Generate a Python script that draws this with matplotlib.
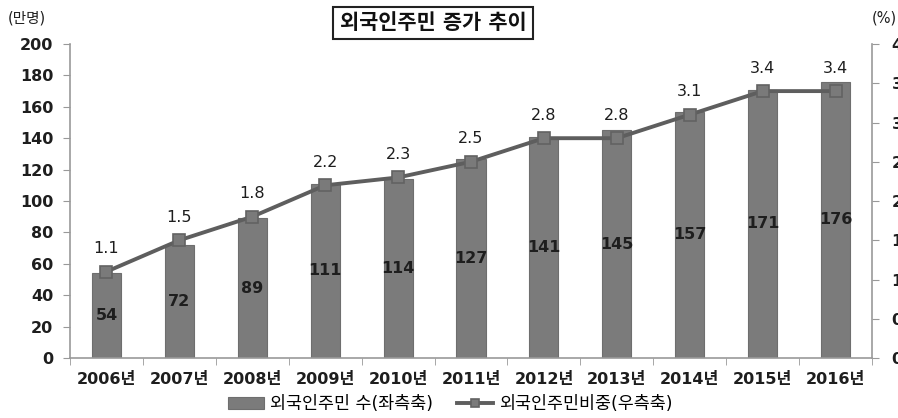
import numpy as np
import matplotlib
matplotlib.use("Agg")
from matplotlib import pyplot as plt
from matplotlib.ticker import FixedLocator

# DejaVu first for the wide digits, CJK font for the Hangul
plt.rcParams['font.family'] = ['DejaVu Sans', 'Noto Sans CJK KR']

# data
years = ['2006년', '2007년', '2008년', '2009년', '2010년', '2011년',
         '2012년', '2013년', '2014년', '2015년', '2016년']
residents = [54, 72, 89, 111, 114, 127, 141, 145, 157, 171, 176]
share = [1.1, 1.5, 1.8, 2.2, 2.3, 2.5, 2.8, 2.8, 3.1, 3.4, 3.4]

TXT = '#1e1e1e'

fig = plt.figure(figsize=(8.98, 4.18), dpi=100)
ax = fig.add_axes([70 / 898, 1 - 358 / 418, 802 / 898, 314 / 418])
ax2 = ax.twinx()

x = np.arange(len(years))
bars = ax.bar(x, residents, width=0.4, color='#7b7b7b', edgecolor='#6e6e6e',
              linewidth=0.8, label='외국인주민 수(좌측축)', zorder=2)
for i, v in enumerate(residents):
    ax.text(i, v / 2, str(v), ha='center', va='center', fontsize=11.5,
            color=TXT, fontweight='semibold', zorder=3)

line, = ax2.plot(x, share, color='#5e5e5e', lw=2.8, marker='s', markersize=8.5,
                 markerfacecolor='#7a7a7a', markeredgecolor='#626262',
                 markeredgewidth=1.2, label='외국인주민비중(우측축)', zorder=4)
for i, v in enumerate(share):
    ax2.annotate(f'{v:.1f}', (i, v), xytext=(0, 11), textcoords='offset points',
                 ha='center', va='bottom', fontsize=11.5, color=TXT)

# axes styling
ax.set_xlim(-0.5, len(years) - 0.5)
ax.set_ylim(0, 200)
ax.set_yticks(np.arange(0, 201, 20))
ax2.set_ylim(0, 4)
ax2.set_yticks(np.arange(0, 4.01, 0.5))
ax2.set_yticklabels([f'{t:.1f}' for t in np.arange(0, 4.01, 0.5)])

ax.set_xticks(x)
ax.set_xticklabels(years, fontsize=11.5, fontweight='semibold', color=TXT)
ax.tick_params(axis='x', which='major', length=0, pad=10)
ax.xaxis.set_minor_locator(FixedLocator(np.arange(-0.5, len(years), 1.0)))
ax.tick_params(axis='x', which='minor', length=5, color='#999999')
ax.tick_params(axis='y', length=5, color='#999999', labelsize=11.5,
               labelcolor=TXT, pad=7)
ax2.tick_params(axis='y', length=5, color='#999999', labelsize=11.5,
                labelcolor=TXT, pad=9)
for lbl in ax.get_yticklabels() + ax2.get_yticklabels():
    lbl.set_fontweight('semibold')

for a in (ax, ax2):
    a.spines['top'].set_visible(False)
    for s in ('left', 'right', 'bottom'):
        a.spines[s].set_color('#999999')
        a.spines[s].set_linewidth(1.2)
ax.spines['right'].set_visible(False)
ax2.spines['left'].set_visible(False)
ax2.spines['bottom'].set_visible(False)

fig.text(8 / 898, 1 - 18 / 418, '(만명)', fontsize=10.5, color=TXT,
         va='center', ha='left')
fig.text(872 / 898, 1 - 18 / 418, '(%)', fontsize=10.5, color=TXT,
         va='center', ha='left')

fig.text(433 / 898, 1 - 23 / 418, '외국인주민 증가 추이', fontsize=15,
         fontweight='bold', ha='center', va='center', color='#111111',
         bbox=dict(boxstyle='square,pad=0.3', facecolor='white',
                   edgecolor='#222222', linewidth=1.5))

fig.legend([bars, line], ['외국인주민 수(좌측축)', '외국인주민비중(우측축)'],
           loc='center', bbox_to_anchor=(450 / 898, 1 - 404 / 418), ncol=2,
           frameon=False, fontsize=12.5, handlelength=2.1, columnspacing=1.4,
           handletextpad=0.3, borderpad=0, markerscale=0.7)

fig.savefig('out.png', dpi=100)
